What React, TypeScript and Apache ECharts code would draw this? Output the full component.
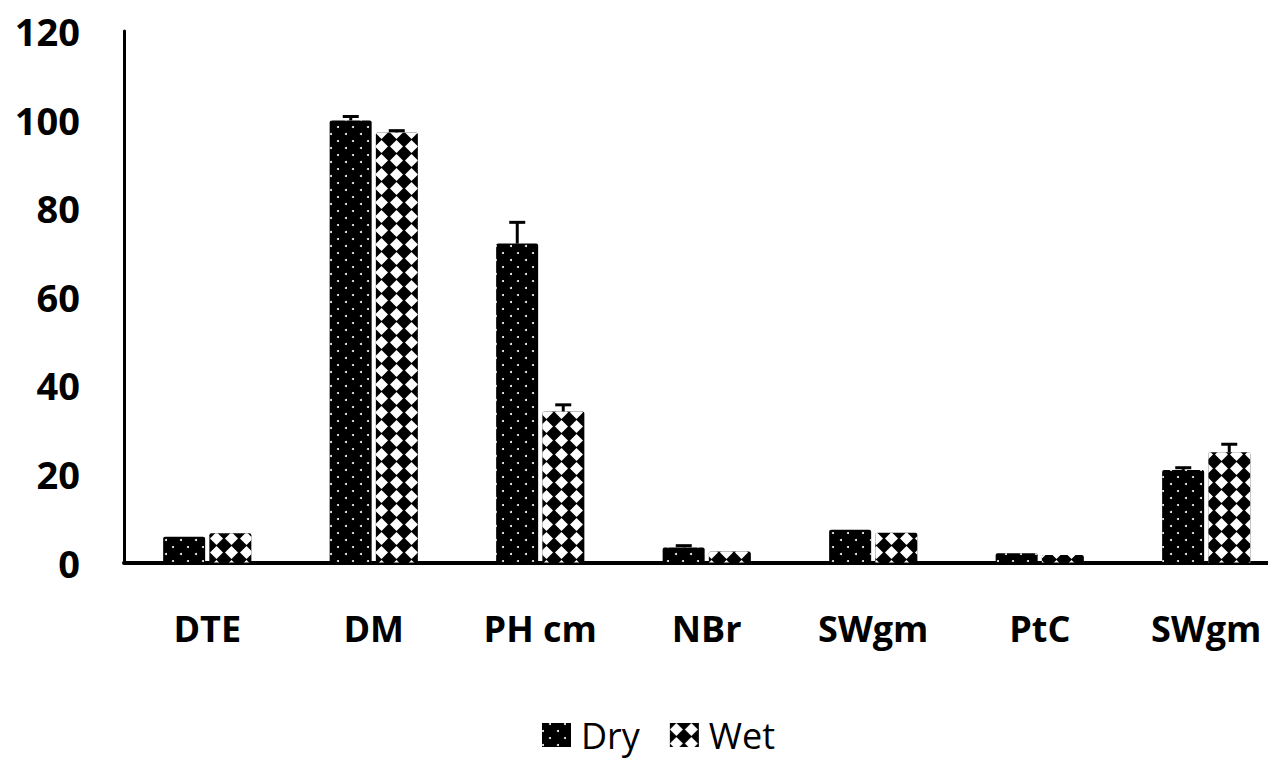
import React, { useEffect, useRef } from 'react';
import * as echarts from 'echarts';

const categories = ['DTE', 'DM', 'PH cm', 'NBr', 'SWgm', 'PtC', 'SWgm'];
const dryValues = [5.8, 99.8, 72.0, 3.4, 7.4, 2.1, 20.9];
const wetValues = [6.6, 97.1, 34.1, 2.5, 6.7, 1.7, 24.9];
const dryErrors = [0, 0.9, 4.8, 0.4, 0, 0, 0.5];
const wetErrors = [0, 0.4, 1.5, 0, 0, 0, 1.8];
const yMin = 0;
const yMax = 120;
const yInterval = 20;

const FONT = '"Open Sans", "Noto Sans", sans-serif';

export default function App() {
  const ref = useRef<HTMLDivElement>(null);
  useEffect(() => {
    const chart = echarts.init(ref.current as HTMLDivElement, null, { renderer: 'svg' });

    const errSeries = (name: string, vals: number[], errs: number[], offset: number) => ({
      type: 'custom',
      name,
      silent: true,
      z: 5,
      data: vals.map((v, i) => [i, v, v + errs[i], errs[i]]),
      renderItem: (params: any, api: any) => {
        if (!(api.value(3) > 0)) return null;
        const x = api.coord([api.value(0), 0])[0] + offset;
        const y0 = api.coord([api.value(0), api.value(1)])[1];
        const y1 = api.coord([api.value(0), api.value(2)])[1];
        return {
          type: 'group',
          children: [
            { type: 'line', shape: { x1: x, y1: y0, x2: x, y2: y1 }, style: { stroke: '#000', lineWidth: 3 } },
            { type: 'line', shape: { x1: x - 8, y1: y1, x2: x + 8, y2: y1 }, style: { stroke: '#000', lineWidth: 3 } },
          ],
        };
      },
    });

    chart.setOption({
      animation: false,
      backgroundColor: '#fff',
      grid: { left: 124, width: 1165.5, top: 31, bottom: 197.5, containLabel: false, outerBoundsMode: 'none' },
      legend: {
        data: ['Dry', 'Wet'],
        bottom: 2,
        left: 537,
        icon: 'rect',
        itemWidth: 29,
        itemHeight: 24,
        itemGap: 30,
        textStyle: { fontFamily: FONT, fontSize: 36, color: '#000', padding: [0, 0, 0, 5] },
      },
      xAxis: {
        type: 'category',
        data: categories,
        axisLine: { lineStyle: { color: '#000', width: 4 } },
        axisTick: { show: false },
        axisLabel: { fontFamily: FONT, fontWeight: 'bold', fontSize: 36, color: '#000', margin: 48, interval: 0 },
      },
      yAxis: {
        type: 'value',
        min: yMin,
        max: yMax,
        interval: yInterval,
        axisLine: { show: true, lineStyle: { color: '#000', width: 3 } },
        axisTick: { show: false },
        splitLine: { show: false },
        axisLabel: { fontFamily: FONT, fontWeight: 'bold', fontSize: 38, color: '#000', margin: 44 },
      },
      series: [
        {
          name: 'Dry',
          type: 'bar',
          data: dryValues,
          barWidth: 42,
          barGap: '10%',
          itemStyle: {
            color: '#000',
            borderRadius: [2, 2, 0, 0],
            decal: {
              symbol: 'circle',
              symbolSize: 1,
              color: '#fff',
              dashArrayX: [[2, 13], [0, 7, 2, 6]],
              dashArrayY: [2, 5],
            },
          },
        },
        {
          name: 'Wet',
          type: 'bar',
          data: wetValues,
          barWidth: 42,
          barGap: '10%',
          itemStyle: {
            color: '#000',
            borderRadius: [2, 2, 0, 0],
            decal: {
              symbol: 'diamond',
              symbolSize: 1,
              symbolKeepAspect: false,
              color: '#fff',
              dashArrayX: [13, 2],
              dashArrayY: [13, 1],
            },
          },
        },
        errSeries('DryErr', dryValues, dryErrors, -23),
        errSeries('WetErr', wetValues, wetErrors, 23),
      ],
    });
    return () => chart.dispose();
  }, []);
  return <div ref={ref} style={{ position: 'fixed', left: 0, top: 0, width: 1268, height: 760 }} />;
}
